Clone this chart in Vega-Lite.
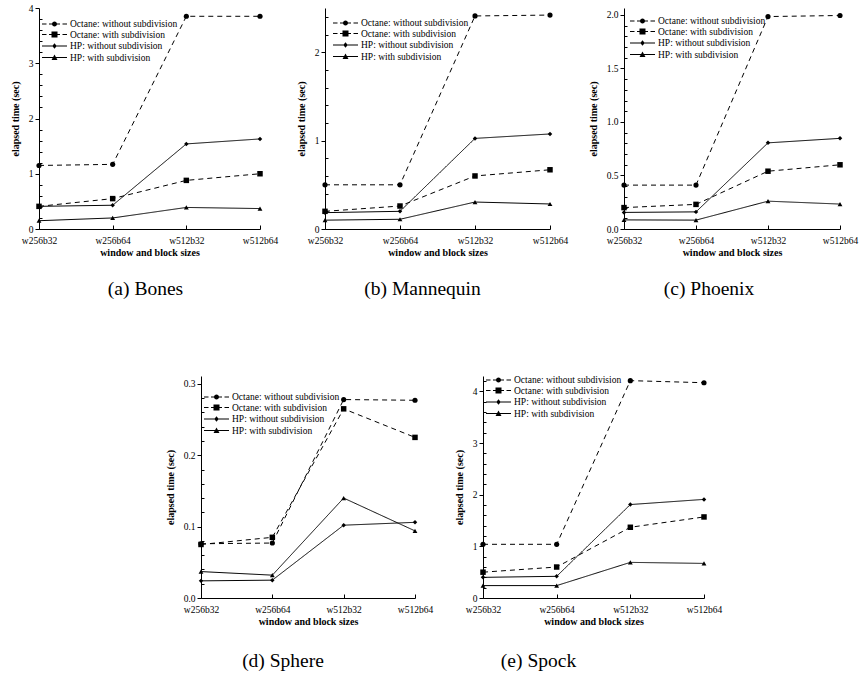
{
  "$schema": "https://vega.github.io/schema/vega-lite/v6.json",
  "background": "white",
  "padding": {"left": 10, "top": 3, "right": 5, "bottom": 5},
  "config": {
    "font": "Liberation Serif",
    "view": {"stroke": null},
    "axis": {"domainColor": "black", "tickColor": "black", "labelColor": "black", "titleColor": "black", "labelFont": "Liberation Serif", "titleFont": "Liberation Serif", "labelFontSize": 9.5, "titleFontSize": 10, "titleFontWeight": "bold", "grid": false, "tickSize": 4, "domainWidth": 1, "tickWidth": 1, "labelPadding": 2},
    "axisX": {"labelAngle": 0, "tickSize": -4, "labelPadding": 10, "titlePadding": 3},
    "axisY": {"titlePadding": 8},
    "legend": {"orient": "none", "labelFont": "Liberation Serif", "labelFontSize": 9.5, "labelColor": "black", "padding": 0, "rowPadding": 0.5, "symbolSize": 100, "labelOffset": 17, "title": null, "symbolFillColor": "black", "symbolStrokeColor": "black", "symbolStrokeWidth": 1, "symbolOpacity": 1},
    "title": {"orient": "bottom", "fontSize": 19.5, "font": "Liberation Serif", "fontWeight": "normal", "color": "black", "offset": 22, "anchor": "middle"}
  },
  "datasets": {
    "bones": [
      {"config": "w256b32", "series": "Octane: without subdivision", "time": 1.15},
      {"config": "w256b64", "series": "Octane: without subdivision", "time": 1.17},
      {"config": "w512b32", "series": "Octane: without subdivision", "time": 3.85},
      {"config": "w512b64", "series": "Octane: without subdivision", "time": 3.85},
      {"config": "w256b32", "series": "Octane: with subdivision", "time": 0.41},
      {"config": "w256b64", "series": "Octane: with subdivision", "time": 0.55},
      {"config": "w512b32", "series": "Octane: with subdivision", "time": 0.88},
      {"config": "w512b64", "series": "Octane: with subdivision", "time": 1.0},
      {"config": "w256b32", "series": "HP: without subdivision", "time": 0.41},
      {"config": "w256b64", "series": "HP: without subdivision", "time": 0.43},
      {"config": "w512b32", "series": "HP: without subdivision", "time": 1.54},
      {"config": "w512b64", "series": "HP: without subdivision", "time": 1.63},
      {"config": "w256b32", "series": "HP: with subdivision", "time": 0.15},
      {"config": "w256b64", "series": "HP: with subdivision", "time": 0.2},
      {"config": "w512b32", "series": "HP: with subdivision", "time": 0.39},
      {"config": "w512b64", "series": "HP: with subdivision", "time": 0.37}
    ],
    "mannequin": [
      {"config": "w256b32", "series": "Octane: without subdivision", "time": 0.5},
      {"config": "w256b64", "series": "Octane: without subdivision", "time": 0.5},
      {"config": "w512b32", "series": "Octane: without subdivision", "time": 2.41},
      {"config": "w512b64", "series": "Octane: without subdivision", "time": 2.42},
      {"config": "w256b32", "series": "Octane: with subdivision", "time": 0.2},
      {"config": "w256b64", "series": "Octane: with subdivision", "time": 0.26},
      {"config": "w512b32", "series": "Octane: with subdivision", "time": 0.6},
      {"config": "w512b64", "series": "Octane: with subdivision", "time": 0.67},
      {"config": "w256b32", "series": "HP: without subdivision", "time": 0.185},
      {"config": "w256b64", "series": "HP: without subdivision", "time": 0.2},
      {"config": "w512b32", "series": "HP: without subdivision", "time": 1.025},
      {"config": "w512b64", "series": "HP: without subdivision", "time": 1.075},
      {"config": "w256b32", "series": "HP: with subdivision", "time": 0.1},
      {"config": "w256b64", "series": "HP: with subdivision", "time": 0.11},
      {"config": "w512b32", "series": "HP: with subdivision", "time": 0.305},
      {"config": "w512b64", "series": "HP: with subdivision", "time": 0.283}
    ],
    "phoenix": [
      {"config": "w256b32", "series": "Octane: without subdivision", "time": 0.41},
      {"config": "w256b64", "series": "Octane: without subdivision", "time": 0.41},
      {"config": "w512b32", "series": "Octane: without subdivision", "time": 1.985},
      {"config": "w512b64", "series": "Octane: without subdivision", "time": 1.995},
      {"config": "w256b32", "series": "Octane: with subdivision", "time": 0.2},
      {"config": "w256b64", "series": "Octane: with subdivision", "time": 0.23},
      {"config": "w512b32", "series": "Octane: with subdivision", "time": 0.54},
      {"config": "w512b64", "series": "Octane: with subdivision", "time": 0.6},
      {"config": "w256b32", "series": "HP: without subdivision", "time": 0.155},
      {"config": "w256b64", "series": "HP: without subdivision", "time": 0.16},
      {"config": "w512b32", "series": "HP: without subdivision", "time": 0.805},
      {"config": "w512b64", "series": "HP: without subdivision", "time": 0.847},
      {"config": "w256b32", "series": "HP: with subdivision", "time": 0.085},
      {"config": "w256b64", "series": "HP: with subdivision", "time": 0.083},
      {"config": "w512b32", "series": "HP: with subdivision", "time": 0.26},
      {"config": "w512b64", "series": "HP: with subdivision", "time": 0.233}
    ],
    "sphere": [
      {"config": "w256b32", "series": "Octane: without subdivision", "time": 0.076},
      {"config": "w256b64", "series": "Octane: without subdivision", "time": 0.077},
      {"config": "w512b32", "series": "Octane: without subdivision", "time": 0.278},
      {"config": "w512b64", "series": "Octane: without subdivision", "time": 0.277},
      {"config": "w256b32", "series": "Octane: with subdivision", "time": 0.075},
      {"config": "w256b64", "series": "Octane: with subdivision", "time": 0.085},
      {"config": "w512b32", "series": "Octane: with subdivision", "time": 0.265},
      {"config": "w512b64", "series": "Octane: with subdivision", "time": 0.225},
      {"config": "w256b32", "series": "HP: without subdivision", "time": 0.024},
      {"config": "w256b64", "series": "HP: without subdivision", "time": 0.025},
      {"config": "w512b32", "series": "HP: without subdivision", "time": 0.102},
      {"config": "w512b64", "series": "HP: without subdivision", "time": 0.106},
      {"config": "w256b32", "series": "HP: with subdivision", "time": 0.037},
      {"config": "w256b64", "series": "HP: with subdivision", "time": 0.032},
      {"config": "w512b32", "series": "HP: with subdivision", "time": 0.14},
      {"config": "w512b64", "series": "HP: with subdivision", "time": 0.094}
    ],
    "spock": [
      {"config": "w256b32", "series": "Octane: without subdivision", "time": 1.04},
      {"config": "w256b64", "series": "Octane: without subdivision", "time": 1.04},
      {"config": "w512b32", "series": "Octane: without subdivision", "time": 4.21},
      {"config": "w512b64", "series": "Octane: without subdivision", "time": 4.17},
      {"config": "w256b32", "series": "Octane: with subdivision", "time": 0.5},
      {"config": "w256b64", "series": "Octane: with subdivision", "time": 0.6},
      {"config": "w512b32", "series": "Octane: with subdivision", "time": 1.37},
      {"config": "w512b64", "series": "Octane: with subdivision", "time": 1.57},
      {"config": "w256b32", "series": "HP: without subdivision", "time": 0.4},
      {"config": "w256b64", "series": "HP: without subdivision", "time": 0.42},
      {"config": "w512b32", "series": "HP: without subdivision", "time": 1.81},
      {"config": "w512b64", "series": "HP: without subdivision", "time": 1.91},
      {"config": "w256b32", "series": "HP: with subdivision", "time": 0.24},
      {"config": "w256b64", "series": "HP: with subdivision", "time": 0.24},
      {"config": "w512b32", "series": "HP: with subdivision", "time": 0.69},
      {"config": "w512b64", "series": "HP: with subdivision", "time": 0.67}
    ]
  },
  "spacing": 76,
  "resolve": {"scale": {"strokeDash": "independent", "shape": "independent", "size": "independent"}, "legend": {"strokeDash": "independent", "shape": "independent", "size": "independent"}},
  "vconcat": [
    {
      "bounds": "flush",
      "spacing": 0,
      "resolve": {"scale": {"strokeDash": "independent", "shape": "independent", "size": "independent"}, "legend": {"strokeDash": "independent", "shape": "independent", "size": "independent"}},
      "hconcat": [
        {
          "width": 221, "height": 221,
          "data": {"name": "bones"},
          "title": {"text": "(a) Bones", "dx": -4},
          "encoding": {
            "x": {"field": "config", "type": "ordinal", "sort": ["w256b32", "w256b64", "w512b32", "w512b64"], "scale": {"type": "point", "padding": 0}, "axis": {"title": "window and block sizes"}}
          },
          "layer": [
            {"mark": {"type": "line", "color": "black", "strokeWidth": 1},
             "encoding": {
               "y": {"field": "time", "type": "quantitative", "scale": {"domain": [0, 4], "nice": false}, "axis": {"title": "elapsed time (sec)", "values": [0, 1, 2, 3, 4], "format": "d"}},
               "strokeDash": {"field": "series", "type": "nominal", "scale": {"domain": ["Octane: without subdivision", "Octane: with subdivision", "HP: without subdivision", "HP: with subdivision"], "range": [[5, 4], [5, 4], [1, 0], [1, 0]]}, "legend": null}
             }},
            {"mark": {"type": "point", "filled": true, "color": "black", "opacity": 1},
             "encoding": {
               "y": {"field": "time", "type": "quantitative", "scale": {"domain": [0, 4], "nice": false}, "axis": {"orient": "left", "title": null, "labels": false, "domain": false, "tickSize": -3, "values": [0.2, 0.4, 0.6, 0.8, 1.2, 1.4, 1.6, 1.8, 2.2, 2.4, 2.6, 2.8, 3.2, 3.4, 3.6, 3.8]}},
               "shape": {"field": "series", "type": "nominal", "scale": {"domain": ["HP: with subdivision", "HP: without subdivision", "Octane: with subdivision", "Octane: without subdivision"], "range": ["triangle-up", "diamond", "square", "circle"]}, "legend": null},
               "size": {"field": "series", "type": "nominal", "scale": {"domain": ["HP: without subdivision", "HP: with subdivision", "Octane: without subdivision", "Octane: with subdivision"], "range": [20, 30, 24, 36]}, "legend": null}
             }},
            {"transform": [{"filter": "false"}],
             "mark": {"type": "point", "filled": true, "fill": "black", "stroke": "black", "strokeWidth": 1, "opacity": 1},
             "encoding": {
               "shape": {"field": "series", "type": "nominal", "scale": {"domain": ["Octane: without subdivision", "Octane: with subdivision", "HP: without subdivision", "HP: with subdivision"], "range": ["M-1.1,-0.1H-0.2V0.1H-1.1ZM0.3,-0.1H2.5V0.1H0.3ZM3,-0.1H3.9V0.1H3ZM1.9,0A0.5,0.5 0 1,1 0.9,0A0.5,0.5 0 1,1 1.9,0Z", "M-1.1,-0.1H-0.2V0.1H-1.1ZM0.3,-0.1H2.5V0.1H0.3ZM3,-0.1H3.9V0.1H3ZM0.8,-0.6H2V0.6H0.8Z", "M-1.1,-0.1H3.9V0.1H-1.1ZM1.4,-0.54L1.84,0L1.4,0.54L0.96,0Z", "M-1.1,-0.1H3.9V0.1H-1.1ZM1.4,-0.6L2,0.5L0.8,0.5Z"]}, "legend": {"legendX": 3, "legendY": 10.5}}
             }}
          ],
          "resolve": {"axis": {"y": "independent"}, "scale": {"shape": "independent"}, "legend": {"shape": "independent"}}
        },
        {"width": 65, "height": 221, "data": {"values": []}, "mark": {"type": "point", "opacity": 0}},
        {
          "width": 225, "height": 221,
          "data": {"name": "mannequin"},
          "title": {"text": "(b) Mannequin", "dx": -15},
          "encoding": {
            "x": {"field": "config", "type": "ordinal", "sort": ["w256b32", "w256b64", "w512b32", "w512b64"], "scale": {"type": "point", "padding": 0}, "axis": {"title": "window and block sizes"}}
          },
          "layer": [
            {"mark": {"type": "line", "color": "black", "strokeWidth": 1},
             "encoding": {
               "y": {"field": "time", "type": "quantitative", "scale": {"domain": [0, 2.5], "nice": false}, "axis": {"title": "elapsed time (sec)", "values": [0, 1, 2], "format": "d"}},
               "strokeDash": {"field": "series", "type": "nominal", "scale": {"domain": ["Octane: without subdivision", "Octane: with subdivision", "HP: without subdivision", "HP: with subdivision"], "range": [[5, 4], [5, 4], [1, 0], [1, 0]]}, "legend": null}
             }},
            {"mark": {"type": "point", "filled": true, "color": "black", "opacity": 1},
             "encoding": {
               "y": {"field": "time", "type": "quantitative", "scale": {"domain": [0, 2.5], "nice": false}, "axis": {"orient": "left", "title": null, "labels": false, "domain": false, "tickSize": -3, "values": [0.2, 0.4, 0.6, 0.8, 1.2, 1.4, 1.6, 1.8, 2.2, 2.4]}},
               "shape": {"field": "series", "type": "nominal", "scale": {"domain": ["HP: with subdivision", "HP: without subdivision", "Octane: with subdivision", "Octane: without subdivision"], "range": ["triangle-up", "diamond", "square", "circle"]}, "legend": null},
               "size": {"field": "series", "type": "nominal", "scale": {"domain": ["HP: without subdivision", "HP: with subdivision", "Octane: without subdivision", "Octane: with subdivision"], "range": [20, 30, 24, 36]}, "legend": null}
             }},
            {"transform": [{"filter": "false"}],
             "mark": {"type": "point", "filled": true, "fill": "black", "stroke": "black", "strokeWidth": 1, "opacity": 1},
             "encoding": {
               "shape": {"field": "series", "type": "nominal", "scale": {"domain": ["Octane: without subdivision", "Octane: with subdivision", "HP: without subdivision", "HP: with subdivision"], "range": ["M-1.1,-0.1H-0.2V0.1H-1.1ZM0.3,-0.1H2.5V0.1H0.3ZM3,-0.1H3.9V0.1H3ZM1.9,0A0.5,0.5 0 1,1 0.9,0A0.5,0.5 0 1,1 1.9,0Z", "M-1.1,-0.1H-0.2V0.1H-1.1ZM0.3,-0.1H2.5V0.1H0.3ZM3,-0.1H3.9V0.1H3ZM0.8,-0.6H2V0.6H0.8Z", "M-1.1,-0.1H3.9V0.1H-1.1ZM1.4,-0.54L1.84,0L1.4,0.54L0.96,0Z", "M-1.1,-0.1H3.9V0.1H-1.1ZM1.4,-0.6L2,0.5L0.8,0.5Z"]}, "legend": {"legendX": 8, "legendY": 9.5}}
             }}
          ],
          "resolve": {"axis": {"y": "independent"}, "scale": {"shape": "independent"}, "legend": {"shape": "independent"}}
        },
        {"width": 74, "height": 221, "data": {"values": []}, "mark": {"type": "point", "opacity": 0}},
        {
          "width": 216, "height": 221,
          "data": {"name": "phoenix"},
          "title": {"text": "(c) Phoenix", "dx": -23},
          "encoding": {
            "x": {"field": "config", "type": "ordinal", "sort": ["w256b32", "w256b64", "w512b32", "w512b64"], "scale": {"type": "point", "padding": 0}, "axis": {"title": "window and block sizes"}}
          },
          "layer": [
            {"mark": {"type": "line", "color": "black", "strokeWidth": 1},
             "encoding": {
               "y": {"field": "time", "type": "quantitative", "scale": {"domain": [0, 2.065], "nice": false}, "axis": {"title": "elapsed time (sec)", "values": [0, 0.5, 1, 1.5, 2], "format": ".1f"}},
               "strokeDash": {"field": "series", "type": "nominal", "scale": {"domain": ["Octane: without subdivision", "Octane: with subdivision", "HP: without subdivision", "HP: with subdivision"], "range": [[5, 4], [5, 4], [1, 0], [1, 0]]}, "legend": null}
             }},
            {"mark": {"type": "point", "filled": true, "color": "black", "opacity": 1},
             "encoding": {
               "y": {"field": "time", "type": "quantitative", "scale": {"domain": [0, 2.065], "nice": false}, "axis": {"orient": "left", "title": null, "labels": false, "domain": false, "tickSize": -3, "values": [0.1, 0.2, 0.3, 0.4, 0.6, 0.7, 0.8, 0.9, 1.1, 1.2, 1.3, 1.4, 1.6, 1.7, 1.8, 1.9]}},
               "shape": {"field": "series", "type": "nominal", "scale": {"domain": ["HP: with subdivision", "HP: without subdivision", "Octane: with subdivision", "Octane: without subdivision"], "range": ["triangle-up", "diamond", "square", "circle"]}, "legend": null},
               "size": {"field": "series", "type": "nominal", "scale": {"domain": ["HP: without subdivision", "HP: with subdivision", "Octane: without subdivision", "Octane: with subdivision"], "range": [20, 30, 24, 36]}, "legend": null}
             }},
            {"transform": [{"filter": "false"}],
             "mark": {"type": "point", "filled": true, "fill": "black", "stroke": "black", "strokeWidth": 1, "opacity": 1},
             "encoding": {
               "shape": {"field": "series", "type": "nominal", "scale": {"domain": ["Octane: without subdivision", "Octane: with subdivision", "HP: without subdivision", "HP: with subdivision"], "range": ["M-1.1,-0.1H-0.2V0.1H-1.1ZM0.3,-0.1H2.5V0.1H0.3ZM3,-0.1H3.9V0.1H3ZM1.9,0A0.5,0.5 0 1,1 0.9,0A0.5,0.5 0 1,1 1.9,0Z", "M-1.1,-0.1H-0.2V0.1H-1.1ZM0.3,-0.1H2.5V0.1H0.3ZM3,-0.1H3.9V0.1H3ZM0.8,-0.6H2V0.6H0.8Z", "M-1.1,-0.1H3.9V0.1H-1.1ZM1.4,-0.54L1.84,0L1.4,0.54L0.96,0Z", "M-1.1,-0.1H3.9V0.1H-1.1ZM1.4,-0.6L2,0.5L0.8,0.5Z"]}, "legend": {"legendX": 6, "legendY": 7.5}}
             }}
          ],
          "resolve": {"axis": {"y": "independent"}, "scale": {"shape": "independent"}, "legend": {"shape": "independent"}}
        }
      ]
    },
    {
      "bounds": "flush",
      "spacing": 0,
      "resolve": {"scale": {"strokeDash": "independent", "shape": "independent", "size": "independent"}, "legend": {"strokeDash": "independent", "shape": "independent", "size": "independent"}},
      "hconcat": [
        {"width": 162, "height": 222, "data": {"values": []}, "mark": {"type": "point", "opacity": 0}},
        {
          "width": 214, "height": 222,
          "data": {"name": "sphere"},
          "title": {"text": "(d) Sphere", "dx": -25, "offset": 25},
          "encoding": {
            "x": {"field": "config", "type": "ordinal", "sort": ["w256b32", "w256b64", "w512b32", "w512b64"], "scale": {"type": "point", "padding": 0}, "axis": {"title": "window and block sizes"}}
          },
          "layer": [
            {"mark": {"type": "line", "color": "black", "strokeWidth": 1},
             "encoding": {
               "y": {"field": "time", "type": "quantitative", "scale": {"domain": [0, 0.311], "nice": false}, "axis": {"title": "elapsed time (sec)", "values": [0, 0.1, 0.2, 0.3], "format": ".1f"}},
               "strokeDash": {"field": "series", "type": "nominal", "scale": {"domain": ["Octane: without subdivision", "Octane: with subdivision", "HP: without subdivision", "HP: with subdivision"], "range": [[5, 4], [5, 4], [1, 0], [1, 0]]}, "legend": null}
             }},
            {"mark": {"type": "point", "filled": true, "color": "black", "opacity": 1},
             "encoding": {
               "y": {"field": "time", "type": "quantitative", "scale": {"domain": [0, 0.311], "nice": false}, "axis": {"orient": "left", "title": null, "labels": false, "domain": false, "tickSize": -3, "values": [0.02, 0.04, 0.06, 0.08, 0.12, 0.14, 0.16, 0.18, 0.22, 0.24, 0.26, 0.28]}},
               "shape": {"field": "series", "type": "nominal", "scale": {"domain": ["HP: with subdivision", "HP: without subdivision", "Octane: with subdivision", "Octane: without subdivision"], "range": ["triangle-up", "diamond", "square", "circle"]}, "legend": null},
               "size": {"field": "series", "type": "nominal", "scale": {"domain": ["HP: without subdivision", "HP: with subdivision", "Octane: without subdivision", "Octane: with subdivision"], "range": [20, 30, 24, 36]}, "legend": null}
             }},
            {"transform": [{"filter": "false"}],
             "mark": {"type": "point", "filled": true, "fill": "black", "stroke": "black", "strokeWidth": 1, "opacity": 1},
             "encoding": {
               "shape": {"field": "series", "type": "nominal", "scale": {"domain": ["Octane: without subdivision", "Octane: with subdivision", "HP: without subdivision", "HP: with subdivision"], "range": ["M-1.1,-0.1H-0.2V0.1H-1.1ZM0.3,-0.1H2.5V0.1H0.3ZM3,-0.1H3.9V0.1H3ZM1.9,0A0.5,0.5 0 1,1 0.9,0A0.5,0.5 0 1,1 1.9,0Z", "M-1.1,-0.1H-0.2V0.1H-1.1ZM0.3,-0.1H2.5V0.1H0.3ZM3,-0.1H3.9V0.1H3ZM0.8,-0.6H2V0.6H0.8Z", "M-1.1,-0.1H3.9V0.1H-1.1ZM1.4,-0.54L1.84,0L1.4,0.54L0.96,0Z", "M-1.1,-0.1H3.9V0.1H-1.1ZM1.4,-0.6L2,0.5L0.8,0.5Z"]}, "legend": {"legendX": 3, "legendY": 15.5}}
             }}
          ],
          "resolve": {"axis": {"y": "independent"}, "scale": {"shape": "independent"}, "legend": {"shape": "independent"}}
        },
        {"width": 68, "height": 222, "data": {"values": []}, "mark": {"type": "point", "opacity": 0}},
        {
          "width": 221, "height": 222,
          "data": {"name": "spock"},
          "title": {"text": "(e) Spock", "dx": -55, "offset": 25},
          "encoding": {
            "x": {"field": "config", "type": "ordinal", "sort": ["w256b32", "w256b64", "w512b32", "w512b64"], "scale": {"type": "point", "padding": 0}, "axis": {"title": "window and block sizes"}}
          },
          "layer": [
            {"mark": {"type": "line", "color": "black", "strokeWidth": 1},
             "encoding": {
               "y": {"field": "time", "type": "quantitative", "scale": {"domain": [0, 4.3], "nice": false}, "axis": {"title": "elapsed time (sec)", "values": [0, 1, 2, 3, 4], "format": "d"}},
               "strokeDash": {"field": "series", "type": "nominal", "scale": {"domain": ["Octane: without subdivision", "Octane: with subdivision", "HP: without subdivision", "HP: with subdivision"], "range": [[5, 4], [5, 4], [1, 0], [1, 0]]}, "legend": null}
             }},
            {"mark": {"type": "point", "filled": true, "color": "black", "opacity": 1},
             "encoding": {
               "y": {"field": "time", "type": "quantitative", "scale": {"domain": [0, 4.3], "nice": false}, "axis": {"orient": "left", "title": null, "labels": false, "domain": false, "tickSize": -3, "values": [0.2, 0.4, 0.6, 0.8, 1.2, 1.4, 1.6, 1.8, 2.2, 2.4, 2.6, 2.8, 3.2, 3.4, 3.6, 3.8, 4.2]}},
               "shape": {"field": "series", "type": "nominal", "scale": {"domain": ["HP: with subdivision", "HP: without subdivision", "Octane: with subdivision", "Octane: without subdivision"], "range": ["triangle-up", "diamond", "square", "circle"]}, "legend": null},
               "size": {"field": "series", "type": "nominal", "scale": {"domain": ["HP: without subdivision", "HP: with subdivision", "Octane: without subdivision", "Octane: with subdivision"], "range": [20, 30, 24, 36]}, "legend": null}
             }},
            {"transform": [{"filter": "false"}],
             "mark": {"type": "point", "filled": true, "fill": "black", "stroke": "black", "strokeWidth": 1, "opacity": 1},
             "encoding": {
               "shape": {"field": "series", "type": "nominal", "scale": {"domain": ["Octane: without subdivision", "Octane: with subdivision", "HP: without subdivision", "HP: with subdivision"], "range": ["M-1.1,-0.1H-0.2V0.1H-1.1ZM0.3,-0.1H2.5V0.1H0.3ZM3,-0.1H3.9V0.1H3ZM1.9,0A0.5,0.5 0 1,1 0.9,0A0.5,0.5 0 1,1 1.9,0Z", "M-1.1,-0.1H-0.2V0.1H-1.1ZM0.3,-0.1H2.5V0.1H0.3ZM3,-0.1H3.9V0.1H3ZM0.8,-0.6H2V0.6H0.8Z", "M-1.1,-0.1H3.9V0.1H-1.1ZM1.4,-0.54L1.84,0L1.4,0.54L0.96,0Z", "M-1.1,-0.1H3.9V0.1H-1.1ZM1.4,-0.6L2,0.5L0.8,0.5Z"]}, "legend": {"legendX": 3, "legendY": -1.5}}
             }}
          ],
          "resolve": {"axis": {"y": "independent"}, "scale": {"shape": "independent"}, "legend": {"shape": "independent"}}
        }
      ]
    }
  ]
}
